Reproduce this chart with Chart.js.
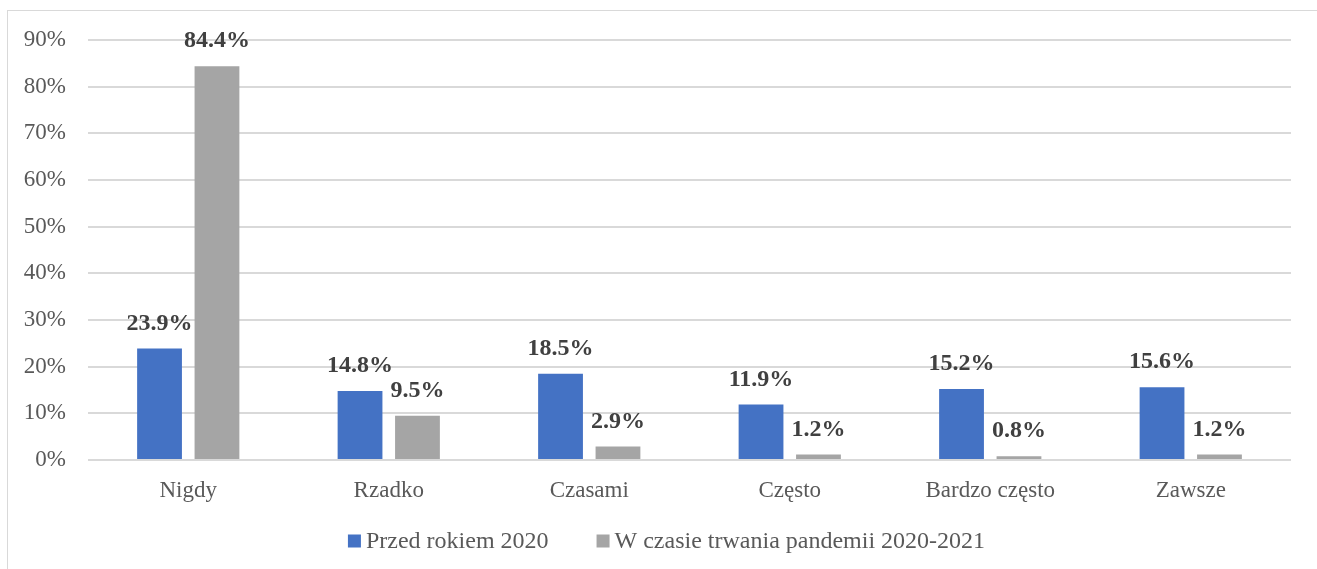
<!DOCTYPE html>
<html>
<head>
<meta charset="utf-8">
<script src="https://cdn.jsdelivr.net/npm/chart.js@4.4.1/dist/chart.umd.min.js"></script>
<style>
    body { margin: 0; background: #fff; overflow: hidden; }
    #wrap { position: relative; width: 1317px; height: 569px; }
    #ramka { position: absolute; left: 7px; top: 10px; width: 1400px; height: 600px; border: 1px solid #d9d9d9; }
    canvas { position: absolute; left: 0; top: 0; }
</style>
</head>
<body>
<div id="wrap">
    <div id="ramka"></div>
    <canvas id="wykres" width="1317" height="569"></canvas>
</div>
<script>
// kategorie i wartości (%)
const kategorie = ['Nigdy', 'Rzadko', 'Czasami', 'Często', 'Bardzo często', 'Zawsze'];
const przed2020 = [23.9, 14.8, 18.5, 11.9, 15.2, 15.6];
const pandemia = [84.4, 9.5, 2.9, 1.2, 0.8, 1.2];
const nazwySerii = ['Przed rokiem 2020', 'W czasie trwania pandemii 2020-2021'];
const kolory = ['#4472C4', '#A5A5A5'];

const FONT = "'Liberation Serif', 'Times New Roman', serif";

// etykiety wartości nad słupkami
const etykietyPlugin = {
    id: 'etykiety',
    afterDatasetsDraw(chart) {
        const ctx = chart.ctx;
        ctx.save();
        ctx.font = 'bold 24px ' + FONT;
        ctx.fillStyle = '#404040';
        ctx.textAlign = 'center';
        ctx.textBaseline = 'middle';
        chart.data.datasets.forEach((ds, i) => {
            const meta = chart.getDatasetMeta(i);
            meta.data.forEach((bar, j) => {
                ctx.fillText(ds.data[j].toFixed(1) + '%', bar.x, bar.y - 25);
            });
        });
        ctx.restore();
    }
};

// legenda rysowana ręcznie (odstępy jak w Excelu)
const legendaPlugin = {
    id: 'legenda',
    afterDraw(chart) {
        const ctx = chart.ctx;
        ctx.save();
        ctx.font = '24px ' + FONT;
        ctx.textBaseline = 'middle';
        const box = 13, gapTxt = 5, gapItem = 48;
        const szer = chart.data.datasets.map(ds => box + gapTxt + ctx.measureText(ds.label).width);
        const total = szer.reduce((a, b) => a + b, 0) + gapItem * (szer.length - 1);
        let x = (chart.width - total) / 2 + 8;
        const y = 541;
        chart.data.datasets.forEach((ds, i) => {
            ctx.fillStyle = ds.backgroundColor;
            ctx.fillRect(x, y - box / 2, box, box);
            ctx.fillStyle = '#595959';
            ctx.fillText(ds.label, x + box + gapTxt, y + 1);
            x += szer[i] + gapItem;
        });
        ctx.restore();
    }
};

new Chart(document.getElementById('wykres').getContext('2d'), {
    type: 'bar',
    data: {
        labels: kategorie,
        datasets: [
            { label: nazwySerii[0], data: przed2020, backgroundColor: kolory[0] },
            { label: nazwySerii[1], data: pandemia, backgroundColor: kolory[1] }
        ]
    },
    options: {
        responsive: false,
        animation: false,
        categoryPercentage: 0.573,
        barPercentage: 0.78,
        layout: { padding: { top: 40, right: 26, bottom: 49, left: 0 } },
        plugins: {
            legend: { display: false },
            tooltip: { enabled: false }
        },
        scales: {
            x: {
                grid: { display: false, drawTicks: false },
                border: { display: false },
                ticks: { color: '#595959', font: { family: FONT, size: 23 }, padding: 17 },
                afterFit(axis) { axis.height = 60; }
            },
            y: {
                min: 0,
                max: 90,
                grid: { color: '#d9d9d9', lineWidth: 2, drawTicks: false },
                border: { display: false },
                ticks: {
                    stepSize: 10,
                    color: '#595959',
                    font: { family: FONT, size: 23 },
                    padding: 22,
                    callback: v => v + '%'
                },
                afterFit(axis) { axis.width = 88; }
            }
        }
    },
    plugins: [etykietyPlugin, legendaPlugin]
});
</script>
</body>
</html>
